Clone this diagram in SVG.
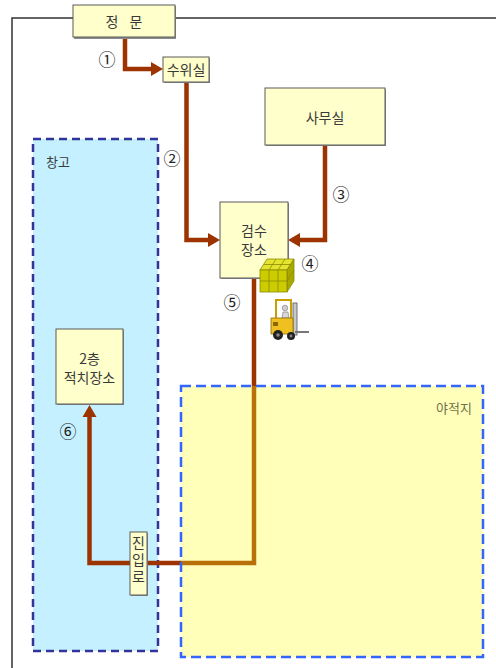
<svg xmlns="http://www.w3.org/2000/svg" width="496" height="668" viewBox="0 0 496 668">
  <style>
    .lbl { font-family: "Noto Sans CJK KR", "Noto Sans", sans-serif; fill: #3a3a3a; font-size: 14px; text-anchor: middle; }
    .num { font-family: "Noto Sans CJK KR", "DejaVu Sans", sans-serif; fill: #222; font-size: 17px; text-anchor: middle; }
    .box { fill: #FFFFCC; stroke: #5a5a5a; stroke-width: 1; }
    .shadow { fill: #8c8c8c; }
    .route { fill: none; stroke: #9C3300; stroke-width: 4.5; stroke-linejoin: miter; }
    .site { fill: none; stroke: #333; stroke-width: 1.5; }
  </style>
  <defs>
    <marker id="head" markerUnits="userSpaceOnUse" markerWidth="13" markerHeight="15" refX="0" refY="7" orient="auto" overflow="visible">
      <path d="M0,0 L12,7 L0,14 Z" fill="#9C3300"/>
    </marker>
  </defs>

  <rect width="496" height="668" fill="#ffffff"/>

  <!-- site boundary -->
  <path class="site" d="M73,18 H12 V668 M176,18 H496"/>

  <!-- warehouse zone -->
  <g id="warehouse">
    <rect x="33" y="139" width="125" height="512" fill="#C4F0FF" stroke="#333399" stroke-width="2.5" stroke-dasharray="8 5"/>
    <text class="lbl" x="58" y="167" style="font-size:13px">창고</text>
  </g>

  <!-- connectors -->
  <g id="connectors">
    <path class="route" d="M125,38 V69 H151" marker-end="url(#head)"/>
    <path class="route" d="M186.5,82 V240 H208" marker-end="url(#head)"/>
    <path class="route" d="M325,145 V240 H300" marker-end="url(#head)"/>
    <path class="route" d="M254,278 V563 H89.5 V417" marker-end="url(#head)"/>
  </g>

  <!-- open storage yard (translucent over the route) -->
  <g id="yard">
    <rect x="181" y="386" width="302" height="271" fill="#FFFF1C" fill-opacity="0.3" stroke="#3366FF" stroke-width="2.5" stroke-dasharray="10 5"/>
    <text class="lbl" x="472" y="413" style="font-size:13px;text-anchor:end;fill:#707048">야적지</text>
  </g>

  <!-- main gate -->
  <g id="gate">
    <rect class="shadow" x="74" y="6" width="102" height="33"/>
    <rect class="box" x="73" y="5" width="102" height="32"/>
    <text class="lbl" x="126" y="27" style="letter-spacing:4px">정 문</text>
  </g>

  <!-- guard room -->
  <g id="guard">
    <rect class="shadow" x="164" y="58" width="46" height="25"/>
    <rect class="box" x="163" y="57" width="46" height="25"/>
    <text class="lbl" x="186" y="75">수위실</text>
  </g>

  <!-- office -->
  <g id="office">
    <rect class="shadow" x="266" y="89" width="120" height="57"/>
    <rect class="box" x="265" y="88" width="120" height="57"/>
    <text class="lbl" x="325" y="123">사무실</text>
  </g>

  <!-- inspection area -->
  <g id="inspection">
    <rect class="shadow" x="221" y="203" width="68" height="76"/>
    <rect class="box" x="220" y="202" width="68" height="76"/>
    <text class="lbl" x="254" y="236">검수</text>
    <text class="lbl" x="254" y="255">장소</text>
  </g>

  <!-- second-floor stacking area -->
  <g id="stacking">
    <rect class="shadow" x="57" y="330" width="67" height="75"/>
    <rect class="box" x="56" y="329" width="67" height="75"/>
    <text class="lbl" x="89.5" y="364">2층</text>
    <text class="lbl" x="89.5" y="383">적치장소</text>
  </g>

  <!-- entrance road, label set vertically -->
  <g id="entrance">
    <rect class="shadow" x="131" y="533" width="17" height="63"/>
    <rect class="box" x="130" y="532" width="17" height="63"/>
    <text class="lbl" x="138.5" y="561" style="writing-mode:vertical-rl;letter-spacing:3px">진입로</text>
  </g>

  <!-- step numbers -->
  <g id="steps">
    <text class="num" x="107" y="66">①</text>
    <text class="num" x="172" y="165">②</text>
    <text class="num" x="341" y="201">③</text>
    <text class="num" x="310" y="270">④</text>
    <text class="num" x="232" y="309">⑤</text>
    <text class="num" x="68" y="438">⑥</text>
  </g>

  <!-- pallet of boxes -->
  <g id="pallet" stroke="#8a8a00" stroke-width="0.8">
    <polygon points="267,259 294,259 287,270 260,270" fill="#E4E430"/>
    <polygon points="287,270 294,259 294,281 287,292" fill="#A8A800"/>
    <rect x="260" y="270" width="27" height="22" fill="#CCCC00"/>
    <path d="M269,270 V292 M278,270 V292 M260,281 H287 M276,259 L269,270 M285,259 L278,270 M264,264.5 H291 M287,281 L294,270" fill="none"/>
  </g>

  <!-- forklift -->
  <g id="forklift">
    <path d="M276,318 V300 H291 V318" fill="none" stroke="#C9A000" stroke-width="2"/>
    <circle cx="285" cy="308" r="2.8" fill="#cfcfcf" stroke="#777" stroke-width="0.6"/>
    <path d="M282,318 L283,312 H288 L289,318 Z" fill="#d8d8d8" stroke="#777" stroke-width="0.6"/>
    <rect x="293" y="303" width="4" height="32" fill="#c8c8c8" stroke="#555" stroke-width="0.8"/>
    <rect x="295" y="331" width="14" height="2" fill="#777"/>
    <path d="M271,318 H293 V334 H271 Z" fill="#F0C020" stroke="#8a6a00" stroke-width="0.8"/>
    <rect x="273" y="322" width="5" height="4" fill="#8a6a00"/>
    <circle cx="278" cy="335" r="5" fill="#222"/>
    <circle cx="278" cy="335" r="1.8" fill="#888"/>
    <circle cx="291" cy="336" r="4" fill="#222"/>
    <circle cx="291" cy="336" r="1.4" fill="#888"/>
  </g>
</svg>
